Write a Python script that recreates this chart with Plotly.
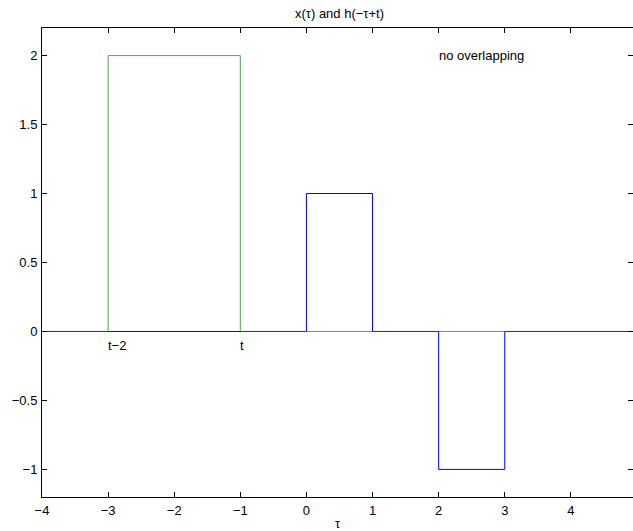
import plotly.graph_objects as go

# Step signals sampled at their breakpoints (held until the next point)
tau_x = [-4, -3, -1, 5]
x_vals = [0, 2, 0, 0]

tau_h = [-4, 0, 1, 2, 3, 5]
h_vals = [0, 1, 0, -1, 0, 0]

x_ticks = [-4, -3, -2, -1, 0, 1, 2, 3, 4]
y_ticks = [-1, -0.5, 0, 0.5, 1, 1.5, 2]

# Text labels placed in data coordinates
marks = [(-3, -0.1, "t\u22122"), (-1, -0.1, "t"), (2, 2, "no overlapping")]

FONT = "Liberation Sans, Arial, Helvetica, sans-serif"
FS = 13

fig = go.Figure()
fig.add_trace(go.Scatter(x=tau_h, y=h_vals, mode="lines", line_shape="hv",
                         line=dict(color="rgb(0,0,255)", width=1), name="h"))
fig.add_trace(go.Scatter(x=tau_x, y=x_vals, mode="lines", line_shape="hv",
                         line=dict(color="rgb(0,128,0)", width=1), opacity=0.68,
                         name="x"))

for tx, ty, s in marks:
    fig.add_annotation(x=tx, y=ty, text=s, showarrow=False, xanchor="left",
                       yanchor="middle", xshift=-2,
                       font=dict(family=FONT, size=FS, color="black"))

axis_common = dict(showgrid=False, zeroline=False, showline=True, linecolor="black",
                   linewidth=1, mirror="ticks", ticks="inside", ticklen=5,
                   tickcolor="black", tickwidth=1,
                   tickfont=dict(family=FONT, size=FS, color="black"))

fig.update_layout(
    width=633, height=531,
    margin=dict(l=42, r=0, t=28, b=34),
    paper_bgcolor="white", plot_bgcolor="white",
    showlegend=False,
    title=dict(text="x(\u03c4) and h(\u2212\u03c4+t)", x=339.5 / 633, xanchor="center",
               y=1 - 13 / 531, yanchor="middle",
               font=dict(family=FONT, size=FS, color="black")),
    xaxis=dict(range=[-4, 4.94], tickvals=x_ticks, ticklabelstandoff=1,
               title=dict(text="\u03c4", standoff=2,
                          font=dict(family=FONT, size=FS, color="black")),
               **axis_common),
    yaxis=dict(range=[-1.2, 2.2], tickvals=y_ticks, ticklabelstandoff=1,
               **axis_common),
)

fig.write_html("out.html")
